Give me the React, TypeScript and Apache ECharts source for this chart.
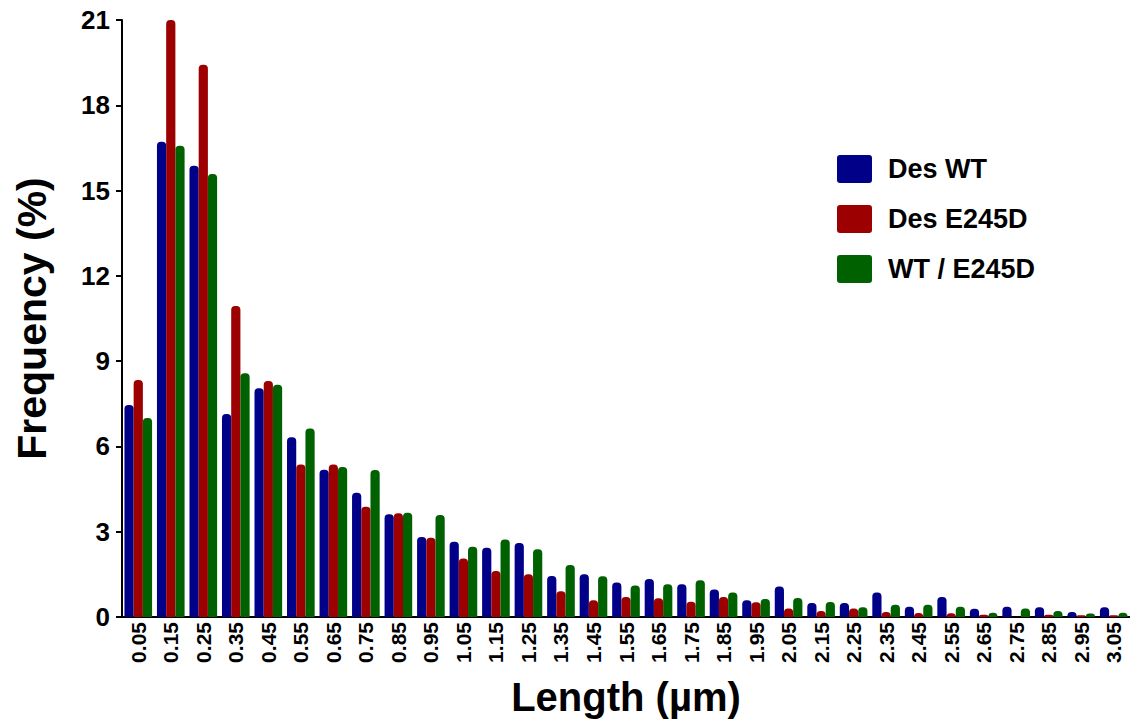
import React, { useEffect, useRef } from "react";
import * as echarts from "echarts";

const categories = [
  "0.05", "0.15", "0.25", "0.35", "0.45", "0.55", "0.65", "0.75", "0.85", "0.95",
  "1.05", "1.15", "1.25", "1.35", "1.45", "1.55", "1.65", "1.75", "1.85", "1.95",
  "2.05", "2.15", "2.25", "2.35", "2.45", "2.55", "2.65", "2.75", "2.85", "2.95", "3.05",
];

const desWT = [
  7.46, 16.72, 15.87, 7.14, 8.05, 6.32, 5.18, 4.37, 3.61, 2.81,
  2.65, 2.44, 2.6, 1.44, 1.5, 1.21, 1.34, 1.15, 0.97, 0.59,
  1.07, 0.49, 0.49, 0.86, 0.36, 0.7, 0.29, 0.36, 0.34, 0.18, 0.34,
];

const desE245D = [
  8.34, 21.0, 19.43, 10.94, 8.3, 5.36, 5.36, 3.88, 3.65, 2.79,
  2.06, 1.62, 1.5, 0.91, 0.59, 0.7, 0.66, 0.54, 0.7, 0.52,
  0.3, 0.21, 0.3, 0.18, 0.14, 0.13, 0.08, 0, 0.08, 0.06, 0.06,
];

const wtE245D = [
  7.0, 16.58, 15.58, 8.57, 8.17, 6.63, 5.28, 5.17, 3.67, 3.59,
  2.47, 2.73, 2.38, 1.83, 1.43, 1.11, 1.15, 1.29, 0.86, 0.63,
  0.67, 0.53, 0.34, 0.43, 0.43, 0.36, 0.15, 0.3, 0.21, 0.12, 0.15,
];

const seriesNames = ["Des WT", "Des E245D", "WT / E245D"];
const colors = ["#000088", "#9c0000", "#006100"];

const FONT = 'Arial, "Liberation Sans", sans-serif';
const LEGEND_ICON = "path://M3,0 H32 Q35,0 35,3 V25 Q35,28 32,28 H3 Q0,28 0,25 V3 Q0,0 3,0 Z";

export default function App() {
  const ref = useRef<HTMLDivElement>(null);

  useEffect(() => {
    if (!ref.current) return;
    const chart = echarts.init(ref.current, null, { renderer: "svg" });
    const dataSets = [desWT, desE245D, wtE245D];
    chart.setOption({
      animation: false,
      backgroundColor: "#ffffff",
      textStyle: { fontFamily: FONT },
      grid: { left: 122, right: 0, top: 20, bottom: 110, containLabel: false },
      legend: {
        orient: "vertical",
        left: 837,
        top: 155,
        padding: 0,
        itemWidth: 35,
        itemHeight: 28,
        itemGap: 22,
        icon: LEGEND_ICON,
        textStyle: { fontSize: 27, fontWeight: "bold", color: "#000", fontFamily: FONT, padding: [0, 0, 0, 11] },
        data: seriesNames,
      },
      xAxis: {
        type: "category",
        data: categories,
        name: "Length (µm)",
        nameLocation: "middle",
        nameGap: 60,
        nameTextStyle: { fontSize: 40, fontWeight: "bold", color: "#000", fontFamily: FONT },
        axisLine: { lineStyle: { color: "#000", width: 2 } },
        axisTick: { alignWithLabel: true, length: 6, lineStyle: { color: "#000", width: 2 } },
        axisLabel: {
          rotate: 90,
          interval: 0,
          fontSize: 21,
          fontWeight: "bold",
          color: "#000",
          margin: 5,
          fontFamily: FONT,
        },
      },
      yAxis: {
        type: "value",
        min: 0,
        max: 21,
        interval: 3,
        name: "Frequency (%)",
        nameLocation: "middle",
        nameGap: 70,
        nameRotate: 90,
        nameTextStyle: { fontSize: 41, fontWeight: "bold", color: "#000", fontFamily: FONT },
        splitLine: { show: false },
        axisLine: { show: true, lineStyle: { color: "#000", width: 2 } },
        axisTick: { show: true, length: 6, lineStyle: { color: "#000", width: 2 } },
        axisLabel: { fontSize: 26, fontWeight: "bold", color: "#000", margin: 12, fontFamily: FONT },
      },
      series: seriesNames.map((name, i) => ({
        name,
        type: "bar",
        data: dataSets[i],
        barGap: "0%",
        barCategoryGap: "15%",
        itemStyle: { color: colors[i], borderRadius: [4, 4, 0, 0] },
      })),
    });
    return () => chart.dispose();
  }, []);

  return (
    <div
      ref={ref}
      style={{ position: "fixed", left: 0, top: 0, width: 1130, height: 727, background: "#fff" }}
    />
  );
}
